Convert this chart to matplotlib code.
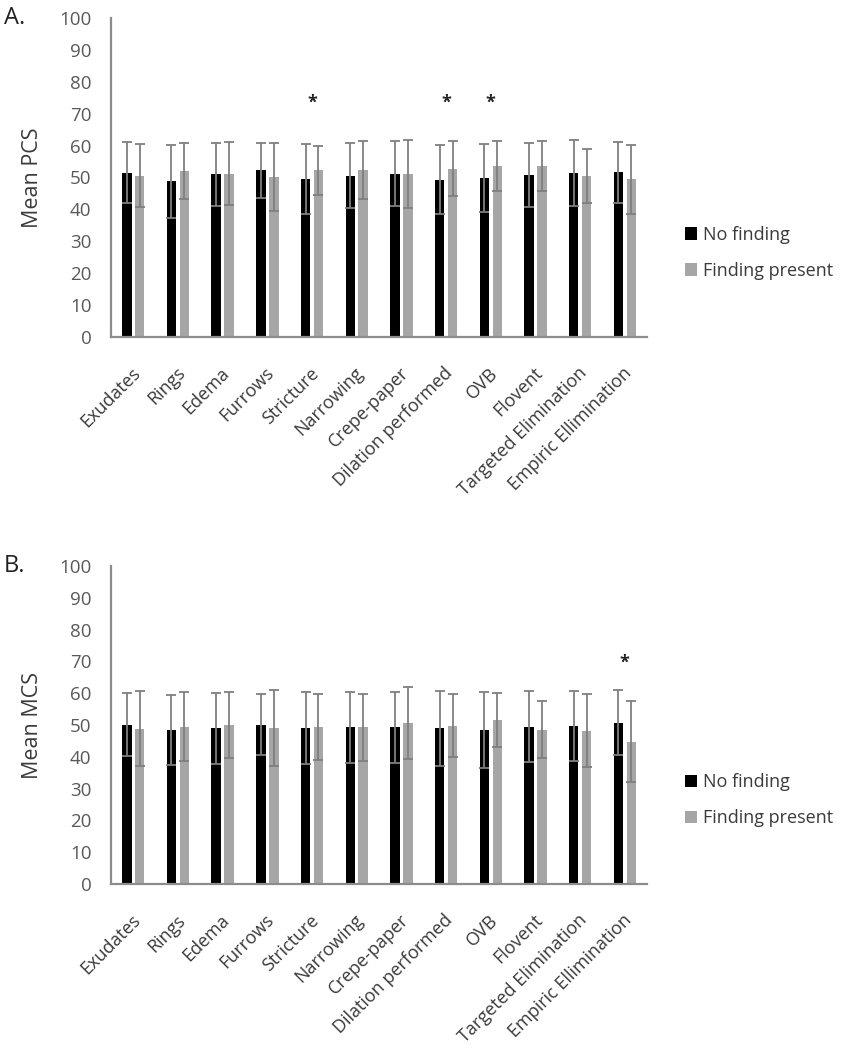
import matplotlib
matplotlib.use("Agg")
import matplotlib.pyplot as plt
import matplotlib.transforms as mtransforms
import numpy as np

categories = ["Exudates", "Rings", "Edema", "Furrows", "Stricture", "Narrowing",
              "Crepe-paper", "Dilation performed", "OVB", "Flovent",
              "Targeted Elimination", "Empiric Ellimination"]
series_names = ["No finding", "Finding present"]

# Panel A: Mean PCS
pcs_no = [51.5, 48.8, 51.0, 52.2, 49.6, 50.6, 51.1, 49.3, 49.9, 50.8, 51.3, 51.6]
pcs_no_sd = [9.6, 11.5, 9.9, 8.6, 11.0, 10.3, 10.2, 10.9, 10.7, 10.1, 10.3, 9.5]
pcs_yes = [50.5, 52.0, 51.2, 50.2, 52.2, 52.3, 51.1, 52.8, 53.5, 53.6, 50.4, 49.4]
pcs_yes_sd = [9.9, 8.7, 9.9, 10.7, 7.7, 9.0, 10.7, 8.6, 7.9, 7.9, 8.4, 10.9]
pcs_sig = [False, False, False, False, True, False, False, True, True, False, False, False]

# Panel B: Mean MCS
mcs_no = [50.1, 48.5, 49.0, 50.1, 49.2, 49.3, 49.3, 49.0, 48.4, 49.5, 49.7, 50.7]
mcs_no_sd = [9.9, 11.0, 11.2, 9.5, 11.3, 11.2, 11.1, 11.8, 12.0, 11.2, 11.0, 10.2]
mcs_yes = [48.9, 49.5, 50.1, 49.0, 49.4, 49.3, 50.6, 49.8, 51.5, 48.5, 48.2, 44.8]
mcs_yes_sd = [11.9, 10.9, 10.4, 11.9, 10.4, 10.6, 11.2, 10.0, 8.5, 8.9, 11.4, 12.8]
mcs_sig = [False, False, False, False, False, False, False, False, False, False, False, True]

yticks = list(range(0, 101, 10))

plt.rcParams['font.family'] = ['Open Sans', 'DejaVu Sans']

fig = plt.figure(figsize=(8.47, 10.5), dpi=100)

BLACK = "#000000"
GRAY = "#a6a6a6"
ECOL = "#7f7f7f"
TICKCOL = "#595959"
TXTCOL = "#3a3a3a"


def panel(rect, no, no_sd, yes, yes_sd, sig, ylabel, letter, star_y):
    ax = fig.add_axes(rect)
    x = np.arange(len(categories))
    w = 0.21
    ekw = dict(ecolor=ECOL, elinewidth=1.3, capsize=3.3, capthick=1.3)
    ax.bar(x - 0.145, no, w, yerr=no_sd, color=BLACK, error_kw=ekw,
           label=series_names[0], zorder=2)
    ax.bar(x + 0.145, yes, w, yerr=yes_sd, color=GRAY, error_kw=ekw,
           label=series_names[1], zorder=2)
    for xi, s in zip(x, sig):
        if s:
            ax.text(xi, star_y, "*", ha="center", va="center",
                    fontsize=13, fontweight="bold", color="#222222")
    ax.set_xlim(-0.5, len(categories) - 0.5)
    ax.set_ylim(0, 100)
    ax.set_yticks(yticks)
    ax.tick_params(axis="y", length=0, pad=14, labelsize=13.5, labelcolor=TICKCOL)
    ax.tick_params(axis="x", length=0, pad=24, labelsize=13, labelcolor=TXTCOL)
    ax.set_xticks(x)
    ax.set_xticklabels(categories, rotation=45, ha="right", rotation_mode="anchor",
                       va="center")
    off = mtransforms.ScaledTranslation(3 / 72, 0, fig.dpi_scale_trans)
    for lab in ax.get_xticklabels():
        lab.set_transform(lab.get_transform() + off)
    for sp in ["top", "right"]:
        ax.spines[sp].set_visible(False)
    for sp in ["left", "bottom"]:
        ax.spines[sp].set_color("#8c8c8c")
        ax.spines[sp].set_linewidth(1.6)
    ax.set_ylabel(ylabel, fontsize=15.5, color=TXTCOL, labelpad=12)
    ax.text(-0.2, 1.0, letter, transform=ax.transAxes, fontsize=17,
            color="#222222", ha="left", va="center")
    leg = ax.legend(loc="center left", bbox_to_anchor=(1.04, 0.263),
                    frameon=False, fontsize=13, handlelength=0.7,
                    handleheight=0.7, handletextpad=0.3, labelspacing=1.0)
    for t in leg.get_texts():
        t.set_color(TXTCOL)
    return ax


panel([0.131, 0.679, 0.633, 0.304], pcs_no, pcs_no_sd, pcs_yes, pcs_yes_sd,
      pcs_sig, "Mean PCS", "A.", 73.5)
panel([0.131, 0.158, 0.633, 0.303], mcs_no, mcs_no_sd, mcs_yes, mcs_yes_sd,
      mcs_sig, "Mean MCS", "B.", 69.5)

fig.savefig("out.png", dpi=100, facecolor="white")
